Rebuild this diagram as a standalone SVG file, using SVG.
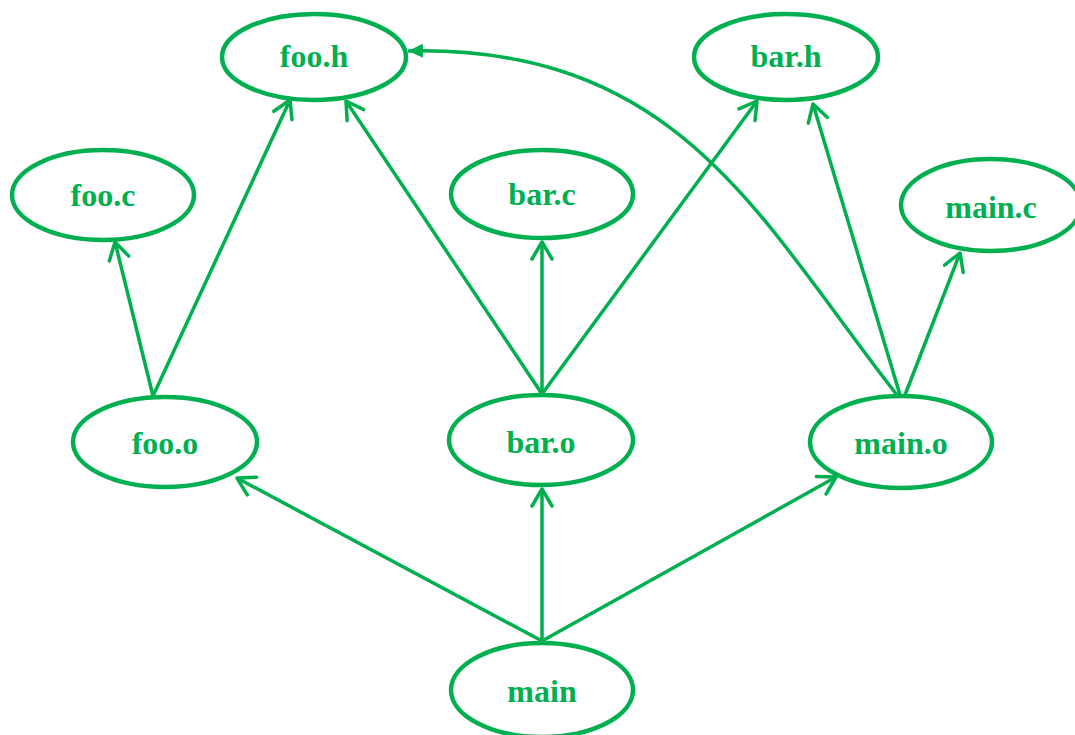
<svg xmlns="http://www.w3.org/2000/svg" width="1075" height="735" viewBox="0 0 1075 735">
  <style>
    .node ellipse { fill: #ffffff; stroke: #00b050; stroke-width: 4.5; }
    .node text { fill: #00b050; font-family: "Liberation Serif", "Times New Roman", serif; font-weight: bold; font-size: 32px; text-anchor: middle; }
    .edge { fill: none; stroke: #00b050; stroke-width: 3.5; }
  </style>
  <defs>
    <marker id="open" markerUnits="userSpaceOnUse" markerWidth="24" markerHeight="24" viewBox="-20 -12 24 24" refX="0" refY="0" orient="auto">
      <path d="M-17,-10 L0,0 L-17,10" fill="none" stroke="#00b050" stroke-width="3.5" stroke-linecap="round" stroke-linejoin="round"/>
    </marker>
    <marker id="solid" markerUnits="userSpaceOnUse" markerWidth="24" markerHeight="24" viewBox="-20 -12 24 24" refX="0" refY="0" orient="auto">
      <path d="M-15,-7 L0,0 L-15,7 Z" fill="#00b050"/>
    </marker>
  </defs>
  <rect width="1075" height="735" fill="#ffffff"/>

  <g id="connectors">
    <line class="edge" x1="153" y1="396" x2="290" y2="100" marker-end="url(#open)"/>
    <line class="edge" x1="153" y1="396" x2="115" y2="242" marker-end="url(#open)"/>
    <line class="edge" x1="542" y1="394" x2="346" y2="101" marker-end="url(#open)"/>
    <line class="edge" x1="542" y1="394" x2="542" y2="242" marker-end="url(#open)"/>
    <line class="edge" x1="542" y1="394" x2="757" y2="101" marker-end="url(#open)"/>
    <path class="edge" d="M897,395 C760,220 680,45 408,51" marker-end="url(#solid)"/>
    <line class="edge" x1="900" y1="395" x2="813" y2="104" marker-end="url(#open)"/>
    <line class="edge" x1="905" y1="395" x2="960" y2="253" marker-end="url(#open)"/>
    <line class="edge" x1="542" y1="641" x2="237" y2="478" marker-end="url(#open)"/>
    <line class="edge" x1="542" y1="641" x2="542" y2="489" marker-end="url(#open)"/>
    <line class="edge" x1="542" y1="641" x2="836" y2="477" marker-end="url(#open)"/>
  </g>

  <g id="foo_h" class="node">
    <ellipse cx="314" cy="57" rx="92" ry="43"/>
    <text x="314" y="67">foo.h</text>
  </g>
  <g id="bar_h" class="node">
    <ellipse cx="786" cy="57" rx="92" ry="43"/>
    <text x="786" y="67">bar.h</text>
  </g>
  <g id="foo_c" class="node">
    <ellipse cx="103" cy="195" rx="91" ry="45"/>
    <text x="103" y="206">foo.c</text>
  </g>
  <g id="bar_c" class="node">
    <ellipse cx="542" cy="194" rx="91" ry="44"/>
    <text x="542" y="205">bar.c</text>
  </g>
  <g id="main_c" class="node">
    <ellipse cx="991" cy="205" rx="90" ry="46"/>
    <text x="991" y="218">main.c</text>
  </g>
  <g id="foo_o" class="node">
    <ellipse cx="165" cy="442" rx="92" ry="45"/>
    <text x="165" y="454">foo.o</text>
  </g>
  <g id="bar_o" class="node">
    <ellipse cx="541" cy="440" rx="92" ry="45"/>
    <text x="541" y="453">bar.o</text>
  </g>
  <g id="main_o" class="node">
    <ellipse cx="901" cy="442" rx="91" ry="46"/>
    <text x="901" y="454">main.o</text>
  </g>
  <g id="main" class="node">
    <ellipse cx="542" cy="690" rx="91" ry="47"/>
    <text x="542" y="702">main</text>
  </g>
</svg>
